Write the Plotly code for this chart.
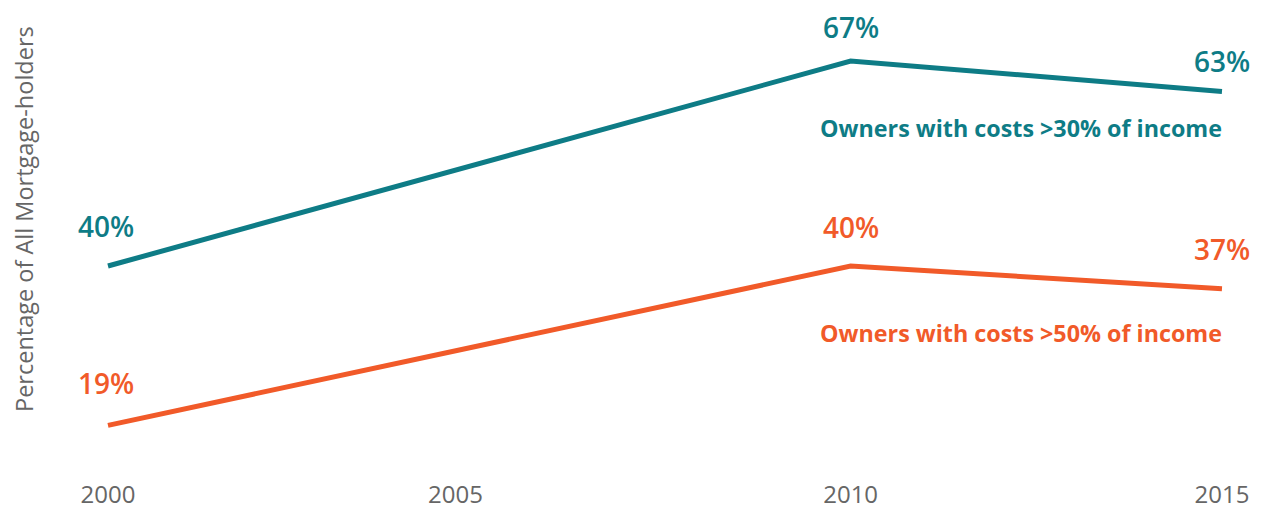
import plotly.graph_objects as go

years = [2000, 2010, 2015]
share_30 = [40, 67, 63]
share_50 = [19, 40, 37]
tick_years = ["2000", "2005", "2010", "2015"]
tick_pos = [2000, 2004.68, 2010, 2015]
series_names = ["Owners with costs >30% of income", "Owners with costs >50% of income"]
y_title = "Percentage of All Mortgage-holders"

TEAL = "#0E7C86"
ORANGE = "#F15A29"
GRAY = "#666666"
FONT = "Open Sans"

# page has an 8px body margin; figure is sized to fit inside the 1267x510 window
W, H = 1259, 502
ML, MR, MT, MB = 52, 20, 2, 30

fig = go.Figure()
for vals, col, name in [(share_30, TEAL, series_names[0]), (share_50, ORANGE, series_names[1])]:
    fig.add_trace(go.Scatter(x=years, y=vals, mode="lines", name=name,
                             line=dict(color=col, width=5), showlegend=False,
                             hoverinfo="skip"))

ann = []
shifts_30 = [40, 34, 30]
shifts_50 = [42, 39, 40]
for vals, col, shifts in [(share_30, TEAL, shifts_30), (share_50, ORANGE, shifts_50)]:
    for x, v, s in zip(years, vals, shifts):
        ann.append(dict(x=x, y=v, xref="x", yref="y", text=f"{v}%", showarrow=False,
                        yshift=s, xshift=-2 if x == 2000 else 0,
                        font=dict(family=FONT, size=28, color=col, weight=600)))
ann.append(dict(x=years[-1], y=share_30[-1], xref="x", yref="y", text=f"<b>{series_names[0]}</b>",
                showarrow=False, xanchor="right", yshift=-37, xshift=2,
                font=dict(family=FONT, size=23.3, color=TEAL)))
ann.append(dict(x=years[-1], y=share_50[-1], xref="x", yref="y", text=f"<b>{series_names[1]}</b>",
                showarrow=False, xanchor="right", yshift=-44, xshift=2,
                font=dict(family=FONT, size=23.3, color=ORANGE)))
pw, ph = W - ML - MR, H - MT - MB
ann.append(dict(x=(16 - ML) / pw, y=(H - MB - 211) / ph, xref="paper", yref="paper",
                xanchor="center", yanchor="middle",
                text=y_title, showarrow=False, textangle=-90,
                font=dict(family=FONT, size=23.5, color=GRAY)))

fig.update_layout(
    width=W, height=H,
    margin=dict(l=ML, r=MR, t=MT, b=MB),
    paper_bgcolor="white", plot_bgcolor="white",
    annotations=ann,
    xaxis=dict(range=[1999.354, 2015.337], tickvals=tick_pos, ticktext=tick_years,
               showgrid=False, zeroline=False, showline=False, ticks="", automargin=False,
               ticklabelstandoff=-2,
               tickfont=dict(family=FONT, size=24, color=GRAY)),
    yaxis=dict(range=[40 - 214 / 7.59, 40 + 256 / 7.59], showticklabels=False,
               showgrid=False, zeroline=False, showline=False, ticks="", automargin=False),
)
fig.write_html("out.html")
